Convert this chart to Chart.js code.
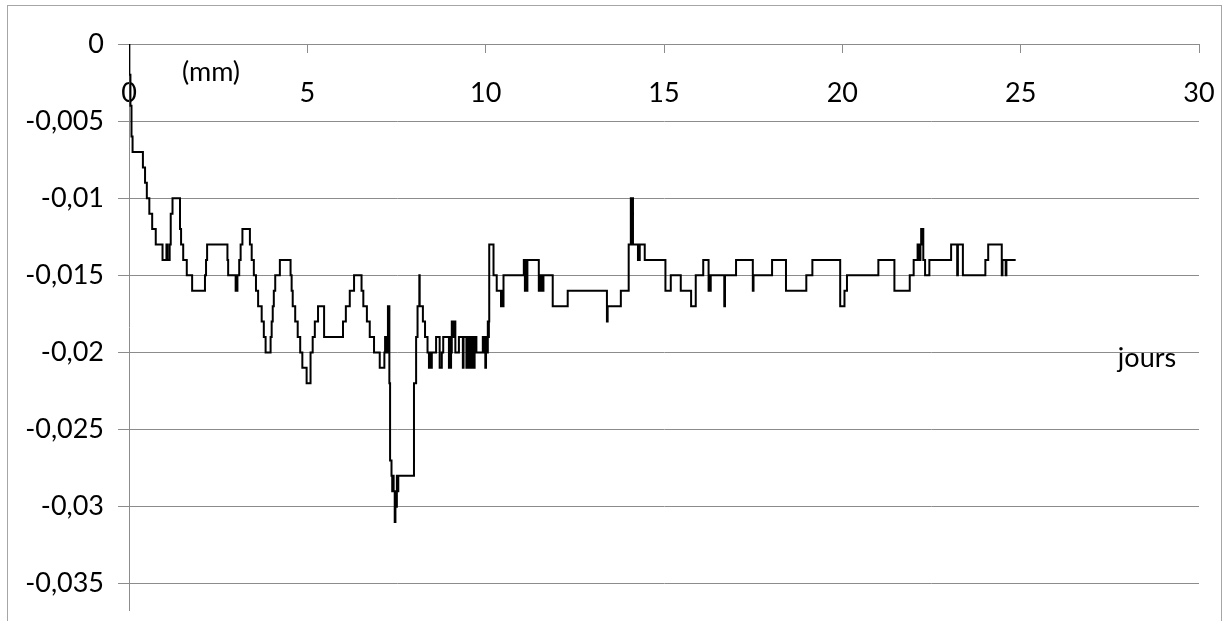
<!DOCTYPE html>
<html>
<head>
<meta charset="utf-8">
<script src="https://cdn.jsdelivr.net/npm/chart.js@4/dist/chart.umd.min.js"></script>
<style>
  html, body { margin: 0; padding: 0; background: #fff; }
  #wrap { position: relative; width: 1227px; height: 621px; overflow: hidden; }
  #frame { position: absolute; left: 7px; top: 5px; width: 1215px; height: 700px;
           border: 1px solid #a6a6a6; box-sizing: border-box; }
  canvas { position: absolute; left: 0; top: 0; }
</style>
</head>
<body>
<div id="wrap">
  <div id="frame"></div>
  <canvas id="chart" width="1227" height="621"></canvas>
</div>
<script>
// Temps écoulé (jours) : chaque valeur débute un palier de la courbe en escalier
const jours = [
  0, 0.01, 0.04, 0.07, 0.10, 0.39, 0.45, 0.50, 0.57, 0.65,
  0.75, 0.94, 1.05, 1.08, 1.14, 1.17, 1.22, 1.43, 1.46, 1.52,
  1.62, 1.77, 2.13, 2.16, 2.19, 2.76, 2.78, 2.99, 3.04, 3.09,
  3.13, 3.18, 3.39, 3.44, 3.50, 3.56, 3.62, 3.72, 3.78, 3.83,
  3.97, 4.00, 4.03, 4.06, 4.10, 4.23, 4.53, 4.56, 4.59, 4.66,
  4.73, 4.80, 4.86, 4.98, 5.09, 5.15, 5.21, 5.30, 5.47, 6.00,
  6.08, 6.19, 6.31, 6.52, 6.57, 6.67, 6.75, 6.87, 7.03, 7.16,
  7.18, 7.20, 7.22, 7.24, 7.26, 7.30, 7.32, 7.36, 7.38, 7.40,
  7.42, 7.45, 7.47, 7.49, 7.51, 7.53, 7.55, 7.99, 8.05, 8.09,
  8.14, 8.15, 8.24, 8.30, 8.37, 8.41, 8.43, 8.45, 8.49, 8.61,
  8.71, 8.77, 8.81, 8.97, 8.99, 9.01, 9.03, 9.05, 9.07, 9.09,
  9.11, 9.13, 9.15, 9.25, 9.36, 9.38, 9.46, 9.48, 9.53, 9.55,
  9.60, 9.62, 9.67, 9.69, 9.74, 9.92, 9.95, 9.97, 9.99, 10.01,
  10.03, 10.06, 10.08, 10.09, 10.10, 10.22, 10.31, 10.43, 10.45, 10.47,
  10.50, 11.07, 11.10, 11.12, 11.15, 11.17, 11.49, 11.51, 11.53, 11.56,
  11.58, 11.62, 11.88, 12.30, 13.40, 13.42, 13.79, 14.01, 14.07, 14.09,
  14.11, 14.13, 14.27, 14.32, 14.46, 15.04, 15.19, 15.47, 15.76, 15.89,
  16.10, 16.25, 16.27, 16.29, 16.31, 16.69, 16.71, 17.02, 17.49, 17.51,
  18.03, 18.42, 18.99, 19.16, 19.94, 20.06, 20.13, 21.01, 21.46, 21.89,
  22.00, 22.11, 22.13, 22.15, 22.17, 22.19, 22.21, 22.23, 22.25, 22.27,
  22.32, 22.44, 23.05, 23.22, 23.24, 23.38, 24.01, 24.09, 24.47, 24.49,
  24.58, 24.60, 24.86
];

// Déplacement mesuré (mm), une valeur par instant ci-dessus
const deplacement = [
  0, -0.002, -0.004, -0.006, -0.007, -0.008, -0.009, -0.010, -0.011, -0.012,
  -0.013, -0.014, -0.013, -0.014, -0.013, -0.011, -0.010, -0.012, -0.013, -0.014,
  -0.015, -0.016, -0.015, -0.014, -0.013, -0.014, -0.015, -0.016, -0.015, -0.014,
  -0.013, -0.012, -0.013, -0.014, -0.015, -0.016, -0.017, -0.018, -0.019, -0.020,
  -0.019, -0.018, -0.017, -0.016, -0.015, -0.014, -0.015, -0.016, -0.017, -0.018,
  -0.019, -0.020, -0.021, -0.022, -0.020, -0.019, -0.018, -0.017, -0.019, -0.018,
  -0.017, -0.016, -0.015, -0.016, -0.017, -0.018, -0.019, -0.020, -0.021, -0.020,
  -0.019, -0.020, -0.019, -0.020, -0.017, -0.022, -0.027, -0.028, -0.029, -0.028,
  -0.029, -0.031, -0.029, -0.030, -0.028, -0.029, -0.028, -0.022, -0.019, -0.017,
  -0.015, -0.017, -0.018, -0.019, -0.020, -0.021, -0.020, -0.021, -0.020, -0.019,
  -0.021, -0.020, -0.019, -0.021, -0.019, -0.021, -0.020, -0.018, -0.019, -0.018,
  -0.019, -0.018, -0.020, -0.019, -0.021, -0.019, -0.021, -0.019, -0.021, -0.019,
  -0.021, -0.019, -0.021, -0.019, -0.020, -0.019, -0.020, -0.019, -0.021, -0.019,
  -0.020, -0.018, -0.019, -0.018, -0.013, -0.015, -0.016, -0.017, -0.016, -0.017,
  -0.015, -0.014, -0.016, -0.014, -0.016, -0.014, -0.016, -0.015, -0.016, -0.015,
  -0.016, -0.015, -0.017, -0.016, -0.018, -0.017, -0.016, -0.013, -0.010, -0.013,
  -0.010, -0.013, -0.014, -0.013, -0.014, -0.016, -0.015, -0.016, -0.017, -0.015,
  -0.014, -0.016, -0.015, -0.016, -0.015, -0.017, -0.015, -0.014, -0.016, -0.015,
  -0.014, -0.016, -0.015, -0.014, -0.017, -0.016, -0.015, -0.014, -0.016, -0.015,
  -0.014, -0.013, -0.014, -0.013, -0.014, -0.013, -0.012, -0.013, -0.012, -0.014,
  -0.015, -0.014, -0.013, -0.015, -0.013, -0.015, -0.014, -0.013, -0.015, -0.014,
  -0.015, -0.014, -0.014
];

// Graduations des axes
const xTicks = [0, 5, 10, 15, 20, 25, 30];
const yTicks = [-0.035, -0.03, -0.025, -0.02, -0.015, -0.01, -0.005, 0];
const yTickLabels = ['-0,035', '-0,03', '-0,025', '-0,02', '-0,015', '-0,01', '-0,005', '0'];

const xRange = [0, 30];
const yRange = [-0.0367, 0];

const FONT = { family: 'Lato', size: 27 };
const GRID = '#8c8c8c';

// Titres libres des axes
const axisTitles = {
  id: 'axisTitles',
  afterDraw(chart) {
    const { ctx, chartArea } = chart;
    ctx.save();
    ctx.font = FONT.size + 'px ' + FONT.family;
    ctx.fillStyle = '#000';
    ctx.textAlign = 'center';
    ctx.textBaseline = 'alphabetic';
    ctx.fillText('(mm)', chartArea.left + 82, chartArea.top + 37);
    ctx.fillText('jours', chartArea.right - 52, chartArea.top + 323);
    ctx.restore();
  }
};

new Chart(document.getElementById('chart'), {
  type: 'line',
  data: {
    datasets: [{
      data: jours.map((x, i) => ({ x, y: deplacement[i] })),
      borderColor: '#000',
      borderWidth: 2,
      stepped: true,
      pointRadius: 0,
      fill: false
    }]
  },
  options: {
    responsive: false,
    animation: false,
    devicePixelRatio: 1,
    layout: { padding: { left: 0, top: 44, right: 28, bottom: 11 } },
    plugins: { legend: { display: false }, tooltip: { enabled: false } },
    scales: {
      x: {
        type: 'linear',
        min: xRange[0],
        max: xRange[1],
        position: { y: 0 },
        afterBuildTicks(s) { s.ticks = xTicks.map(v => ({ value: v })); },
        afterFit(s) { s.paddingLeft = 0; s.paddingRight = 0; },
        ticks: {
          callback: v => String(v),
          font: FONT,
          color: '#000',
          padding: 25,
          maxRotation: 0,
          autoSkip: false
        },
        grid: { drawOnChartArea: false, drawTicks: true, tickLength: 8, color: GRID },
        border: { display: true, color: GRID }
      },
      y: {
        type: 'linear',
        min: yRange[0],
        max: yRange[1],
        afterFit(s) { s.width = 129; s.paddingTop = 0; s.paddingBottom = 0; },
        afterBuildTicks(s) { s.ticks = yTicks.map(v => ({ value: v })); },
        ticks: {
          callback: v => yTickLabels[yTicks.indexOf(v)],
          font: FONT,
          color: '#000',
          padding: 14
        },
        grid: { color: GRID, lineWidth: 1, drawTicks: true, tickLength: 11 },
        border: { display: true, color: GRID }
      }
    }
  },
  plugins: [axisTitles]
});
</script>
</body>
</html>
